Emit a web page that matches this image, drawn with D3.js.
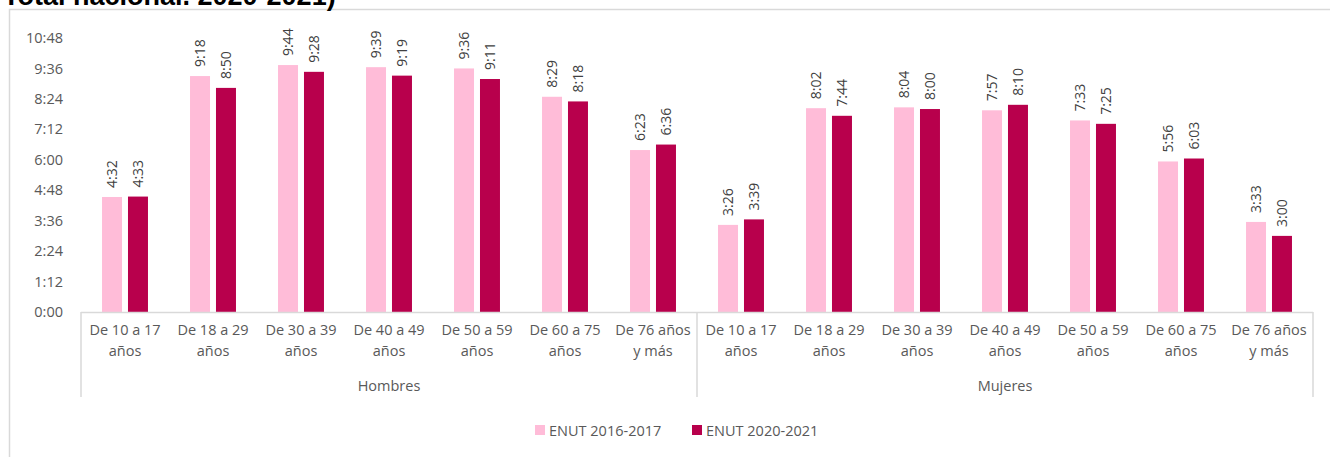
<!DOCTYPE html>
<html>
<head>
<meta charset="utf-8">
<script src="https://cdn.jsdelivr.net/npm/d3@7"></script>
<style>
  body { margin: 0; background: #fff; }
  svg { display: block; font-family: "Open Sans", sans-serif; }
</style>
</head>
<body>
<div id="chart"></div>
<script>
// Age groups, repeated for each sex
const ageGroups = ["De 10 a 17|años", "De 18 a 29|años", "De 30 a 39|años", "De 40 a 49|años",
                   "De 50 a 59|años", "De 60 a 75|años", "De 76 años|y más"];
const sexes = ["Hombres", "Mujeres"];
const seriesNames = ["ENUT 2016-2017", "ENUT 2020-2021"];

// hours:minutes
const hombres2016 = ["4:32", "9:18", "9:44", "9:39", "9:36", "8:29", "6:23"];
const hombres2020 = ["4:33", "8:50", "9:28", "9:19", "9:11", "8:18", "6:36"];
const mujeres2016 = ["3:26", "8:02", "8:04", "7:57", "7:33", "5:56", "3:33"];
const mujeres2020 = ["3:39", "7:44", "8:00", "8:10", "7:25", "6:03", "3:00"];

const tickLabels = ["0:00", "1:12", "2:24", "3:36", "4:48", "6:00", "7:12", "8:24", "9:36", "10:48"];

const colors = ["#ffbcd8", "#b8004c"];

const toMin = s => { const [h, m] = s.split(":").map(Number); return h * 60 + m; };

// one row per category
const rows = [];
sexes.forEach((sex, si) => {
    const a = si === 0 ? hombres2016 : mujeres2016;
    const b = si === 0 ? hombres2020 : mujeres2020;
    ageGroups.forEach((g, i) => {
        rows.push({ key: sex + i, sex: sex, label: g, values: [a[i], b[i]] });
    });
});

const width = 1330, height = 457;
const plotLeft = 81, plotRight = 1313, plotTop = 38, plotBottom = 312;
const textSize = "14.5px";

const svg = d3.select("#chart").append("svg")
    .attr("width", width)
    .attr("height", height);

// chart border (runs off the right and bottom of the page)
svg.append("rect")
    .attr("x", 9.5).attr("y", 9.5)
    .attr("width", width).attr("height", height)
    .attr("fill", "none")
    .attr("stroke", "#d9d9d9")
    .attr("stroke-width", 1.5);

// cropped title
svg.append("text")
    .attr("x", 3).attr("y", 5)
    .attr("font-family", "Liberation Sans, Arial, sans-serif")
    .attr("font-weight", "bold")
    .attr("font-size", "27px")
    .attr("fill", "#000")
    .text("Total nacional. 2020-2021)");

const x0 = d3.scaleBand()
    .domain(rows.map(d => d.key))
    .range([plotLeft, plotRight]);

const x1 = d3.scaleBand()
    .domain([0, 1])
    .range([0, x0.bandwidth()])
    .paddingInner(0.23)
    .paddingOuter(0.81);

const y = d3.scaleLinear()
    .domain([0, toMin("10:48")])
    .range([plotBottom, plotTop]);

// y axis labels
svg.append("g")
    .selectAll("text")
    .data(tickLabels)
    .join("text")
    .attr("x", 63)
    .attr("y", d => y(toMin(d)))
    .attr("dy", "0.35em")
    .attr("text-anchor", "end")
    .attr("font-size", textSize)
    .attr("fill", "#595959")
    .text(d => d);

// bars
const cat = svg.append("g")
    .selectAll("g")
    .data(rows)
    .join("g")
    .attr("transform", d => `translate(${x0(d.key)},0)`);

cat.selectAll("rect")
    .data(d => d.values.map((v, i) => ({ v: v, i: i })))
    .join("rect")
    .attr("x", d => x1(d.i))
    .attr("width", x1.bandwidth())
    .attr("y", d => y(toMin(d.v)))
    .attr("height", d => y(0) - y(toMin(d.v)))
    .attr("fill", d => colors[d.i]);

// rotated data labels
cat.selectAll("text.lbl")
    .data(d => d.values.map((v, i) => ({ v: v, i: i })))
    .join("text")
    .attr("class", "lbl")
    .attr("transform", d => `translate(${x1(d.i) + x1.bandwidth() / 2},${y(toMin(d.v)) - 9}) rotate(-90)`)
    .attr("dy", "0.35em")
    .attr("font-size", "14px")
    .attr("fill", "#404040")
    .text(d => d.v);

// category axis
const axisColor = "#d9d9d9";
svg.append("line")
    .attr("x1", plotLeft).attr("x2", plotRight)
    .attr("y1", plotBottom + 0.5).attr("y2", plotBottom + 0.5)
    .attr("stroke", axisColor).attr("stroke-width", 1.5);

const groupEdges = [plotLeft, x0(sexes[1] + 0), plotRight];
svg.append("g")
    .selectAll("line")
    .data(groupEdges)
    .join("line")
    .attr("x1", d => d).attr("x2", d => d)
    .attr("y1", plotBottom).attr("y2", 397)
    .attr("stroke", axisColor).attr("stroke-width", 1.5);

const catLabels = svg.append("g")
    .selectAll("text")
    .data(rows)
    .join("text")
    .attr("text-anchor", "middle")
    .attr("font-size", textSize)
    .attr("fill", "#595959");

catLabels.selectAll("tspan")
    .data(d => d.label.split("|").map(t => ({ t: t, x: x0(d.key) + x0.bandwidth() / 2 })))
    .join("tspan")
    .attr("x", d => d.x)
    .attr("y", (d, i) => 335 + i * 21)
    .text(d => d.t);

svg.append("g")
    .selectAll("text")
    .data(sexes)
    .join("text")
    .attr("x", (d, i) => (groupEdges[i] + groupEdges[i + 1]) / 2)
    .attr("y", 391)
    .attr("text-anchor", "middle")
    .attr("font-size", textSize)
    .attr("fill", "#595959")
    .text(d => d);

// legend
const legend = svg.append("g")
    .selectAll("g")
    .data(seriesNames)
    .join("g")
    .attr("transform", (d, i) => `translate(${535 + i * 157},425)`);

legend.append("rect")
    .attr("width", 10).attr("height", 10)
    .attr("fill", (d, i) => colors[i]);

legend.append("text")
    .attr("x", 14).attr("y", 10.5)
    .attr("font-size", textSize)
    .attr("fill", "#595959")
    .text(d => d);
</script>
</body>
</html>
